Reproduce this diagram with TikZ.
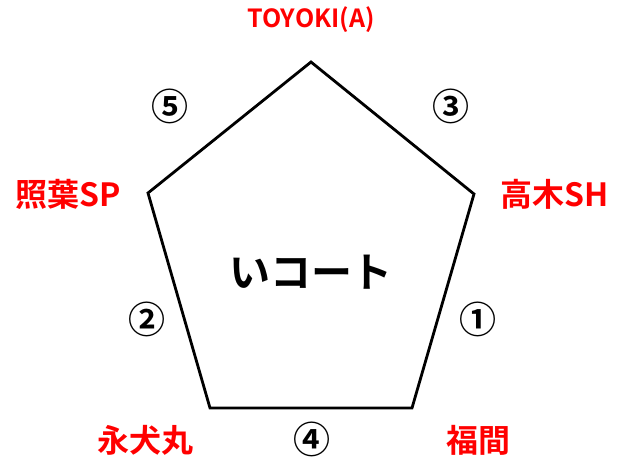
\documentclass[tikz,border=0pt]{standalone}
\usepackage{fontspec}
\setmainfont{Noto Sans CJK JP}[BoldFont={* Bold}]
\newfontfamily\jpb{Noto Sans CJK JP Bold}
\begin{document}
\begin{tikzpicture}[x=1pt,y=-1pt,
  lab/.style={text=red,font=\jpb\fontsize{32}{32}\selectfont,inner sep=0pt},
  num/.style={text=black,font=\jpb\fontsize{37}{37}\selectfont,inner sep=0pt},
  edge/.style={draw=black,line width=2.8pt,line join=miter}]
\useasboundingbox (0,0) rectangle (625,459);
\coordinate (T) at (311,62);
\coordinate (R) at (474,194);
\coordinate (BR) at (412,408);
\coordinate (BL) at (210,408);
\coordinate (L) at (148,193);
\draw[edge] (T) -- (R) -- (BR) -- (BL) -- (L) -- cycle;
\node[text=red,font=\jpb\fontsize{25}{25}\selectfont,inner sep=0pt] (ta) at (311,20) {TOYOKI(A)};
\node[lab] (sy) at (68,194) {照葉SP};
\node[lab] (tk) at (555,194) {高木SH};
\node[lab] (ei) at (145,440) {永犬丸};
\node[lab] (fk) at (478,440) {福間};
\node[num] (n5) at (170,106) {⑤};
\node[num] (n3) at (451,106) {③};
\node[num] (n2) at (147,319) {②};
\node[num] (n1) at (478,319) {①};
\node[num] (n4) at (312,439) {④};
\node[font=\jpb\fontsize{41}{41}\selectfont,inner sep=0pt] (c) at (311,272) {いコート};
\end{tikzpicture}
\end{document}
